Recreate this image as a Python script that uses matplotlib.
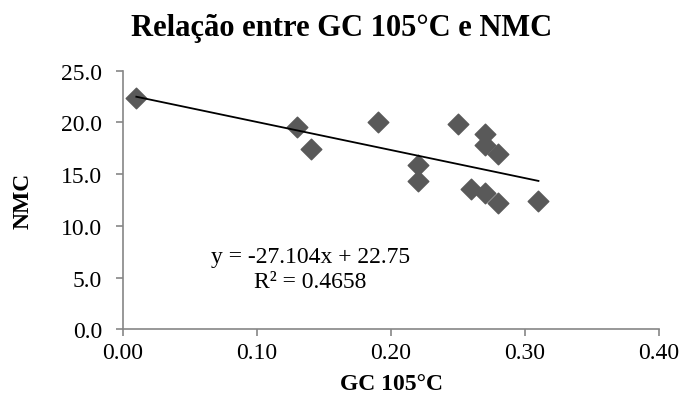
import matplotlib.pyplot as plt

plt.rcParams['font.family'] = ['Liberation Serif', 'DejaVu Serif']

# GC 105°C vs NMC
gc_105 = [0.01, 0.13, 0.14, 0.19, 0.22, 0.22, 0.25, 0.26, 0.27, 0.27, 0.27, 0.28, 0.28, 0.31]
nmc = [22.4, 19.6, 17.4, 20.0, 15.9, 14.3, 19.8, 13.6, 18.9, 17.8, 13.2, 16.9, 12.2, 12.4]

# trend line from the chart's equation
slope = -27.104
intercept = 22.75
r2 = 0.4658

x_ticks = [0.00, 0.10, 0.20, 0.30, 0.40]
y_ticks = [0.0, 5.0, 10.0, 15.0, 20.0, 25.0]

fig = plt.figure(figsize=(6.83, 4.14), dpi=100)
ax = fig.add_axes([0.180, 0.2017, 0.785, 0.6253])

ax.scatter(gc_105, nmc, marker='D', s=110, color='#595959', edgecolors='#595959', zorder=2)
x_line = [min(gc_105), max(gc_105)]
y_line = [slope * x + intercept for x in x_line]
ax.plot(x_line, y_line, color='black', linewidth=1.3, zorder=3)

ax.text(0.14, 5.85, f'y = {slope}x + {intercept}\nR² = {r2}', ha='center', va='center',
        fontsize=17, multialignment='center', linespacing=1.2)

ax.set_xlim(0, 0.40)
ax.set_ylim(0, 25)
ax.set_xticks(x_ticks)
ax.set_yticks(y_ticks)
ax.set_xticklabels([f'{t:.2f}' for t in x_ticks])
ax.set_yticklabels([f'{t:.1f}' for t in y_ticks])

for side in ['top', 'right']:
    ax.spines[side].set_visible(False)
for side in ['left', 'bottom']:
    ax.spines[side].set_color('#868686')
    ax.spines[side].set_linewidth(1.2)
ax.tick_params(axis='both', colors='#868686', labelcolor='black', labelsize=17, length=5, width=1.2)
ax.tick_params(axis='x', pad=4)
ax.tick_params(axis='y', pad=10)

fig.text(0.5, 0.932, 'Relação entre GC 105°C e NMC', fontsize=22, fontweight='bold',
         ha='center', va='center')
ax.set_xlabel('GC 105°C', fontsize=17, fontweight='bold', labelpad=7)
ax.set_ylabel('NMC', fontsize=17, fontweight='bold', labelpad=20)

fig.savefig('out.png', dpi=100)
